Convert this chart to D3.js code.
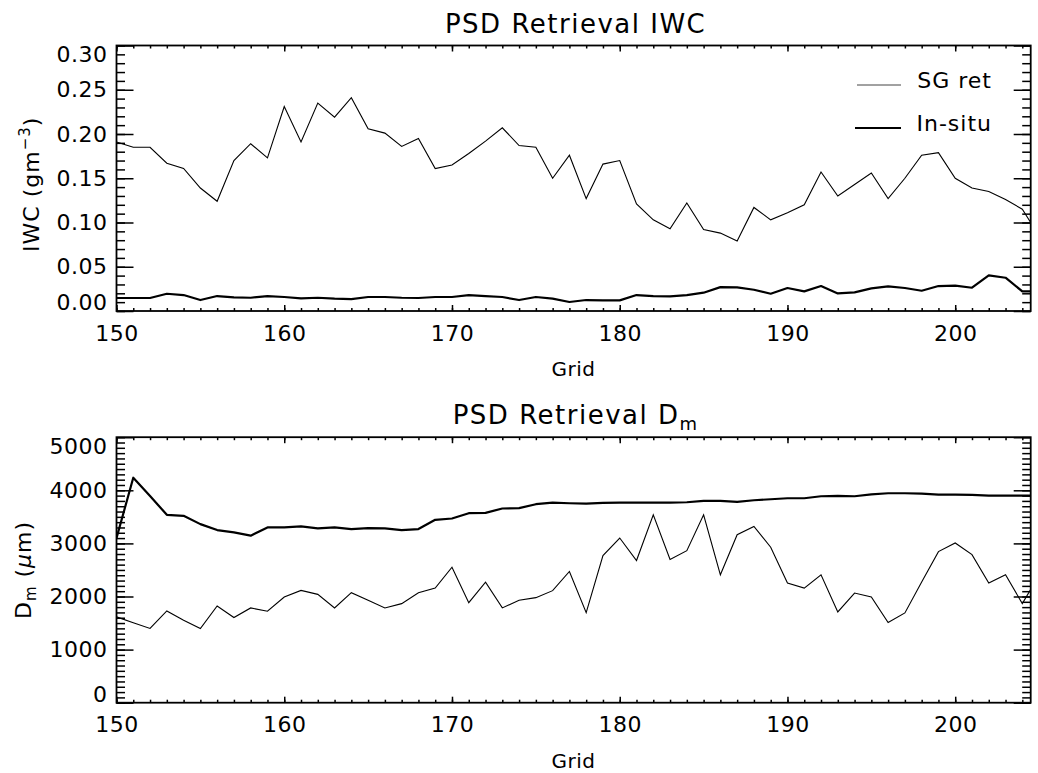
<!DOCTYPE html>
<html>
<head>
<meta charset="utf-8">
<script src="https://cdn.jsdelivr.net/npm/d3@7"></script>
<style>
  body { margin: 0; background: #fff; }
  svg text { font-family: "DejaVu Sans", sans-serif; fill: #000; }
</style>
</head>
<body>
<div id="chart"></div>
<script>
// Grid index along the x axis
const grid = [150, 151, 152, 153, 154, 155, 156, 157, 158, 159, 160, 161, 162, 163, 164, 165, 166, 167, 168, 169,
  170, 171, 172, 173, 174, 175, 176, 177, 178, 179, 180, 181, 182, 183, 184, 185, 186, 187, 188, 189,
  190, 191, 192, 193, 194, 195, 196, 197, 198, 199, 200, 201, 202, 203, 204, 205];

// IWC (g m-3)
const iwcSG = [0.191, 0.185, 0.185, 0.167, 0.161, 0.139, 0.124, 0.170, 0.189, 0.173, 0.231, 0.191, 0.235, 0.219, 0.241, 0.206, 0.201, 0.186, 0.195, 0.161,
  0.165, 0.178, 0.192, 0.207, 0.187, 0.185, 0.150, 0.176, 0.127, 0.166, 0.170, 0.121, 0.103, 0.093, 0.122, 0.092, 0.088, 0.079, 0.117, 0.103,
  0.111, 0.120, 0.157, 0.130, 0.143, 0.156, 0.127, 0.150, 0.176, 0.179, 0.150, 0.139, 0.135, 0.126, 0.115, 0.085];
const iwcInsitu = [0.0147, 0.0147, 0.0147, 0.0195, 0.018, 0.0124, 0.0169, 0.0154, 0.015, 0.0169, 0.0158, 0.0143, 0.015, 0.0139, 0.0135, 0.0158, 0.0158, 0.015, 0.0147, 0.0158,
  0.0158, 0.018, 0.0169, 0.0158, 0.0124, 0.0158, 0.0139, 0.0102, 0.0124, 0.012, 0.012, 0.018, 0.0169, 0.0165, 0.018, 0.0207, 0.027, 0.0267, 0.024, 0.0195,
  0.026, 0.0222, 0.0282, 0.0199, 0.021, 0.0256, 0.0278, 0.026, 0.0229, 0.0282, 0.0286, 0.0263, 0.0402, 0.0376, 0.0222, 0.022];

// Dm (micron)
const dmSG = [1616, 1504, 1398, 1728, 1554, 1398, 1822, 1604, 1785, 1722, 1991, 2115, 2040, 1785, 2072, 1928, 1785, 1866, 2072, 2159,
  2552, 1884, 2271, 1785, 1928, 1978, 2110, 2471, 1697, 2771, 3101, 2677, 3538, 2696, 2864, 3538, 2409, 3164, 3320, 2927,
  2253, 2159, 2409, 1710, 2065, 1991, 1510, 1691, 2271, 2845, 3008, 2789, 2253, 2409, 1866, 2400];
const dmInsitu = [3100, 4237, 3894, 3538, 3519, 3363, 3251, 3207, 3145, 3301, 3301, 3320, 3282, 3301, 3270, 3288, 3282, 3251, 3270, 3444,
  3469, 3569, 3576, 3657, 3663, 3738, 3769, 3756, 3750, 3763, 3769, 3769, 3769, 3769, 3775, 3800, 3800, 3781, 3813, 3831,
  3850, 3850, 3888, 3894, 3888, 3925, 3944, 3944, 3938, 3919, 3919, 3913, 3900, 3900, 3900, 3900];

const xRange = [150, 204.5];
const iwcRange = [0, 0.30];
const dmRange = [0, 5000];

const W = 1038, H = 773;
const left = 116.5, right = 1030.7;

const svg = d3.select("#chart").append("svg").attr("width", W).attr("height", H);

const x = d3.scaleLinear().domain(xRange).range([left, right]);

function drawPanel(o) {
  const y = d3.scaleLinear().domain(o.yDomain).range([o.bottom, o.top]);
  const g = svg.append("g");
  const id = "clip-" + o.key;

  g.append("clipPath").attr("id", id)
    .append("rect")
    .attr("x", left).attr("y", o.top)
    .attr("width", right - left).attr("height", o.bottom - o.top);

  // minor ticks, all four sides
  const style = (sel) => {
    sel.select(".domain").remove();
    sel.selectAll("line").attr("stroke", "#000").attr("stroke-width", 1.5);
    sel.attr("font-size", null).attr("font-family", null);
  };

  g.append("g").attr("transform", `translate(${left},0)`)
    .call(d3.axisLeft(y).tickValues(y.ticks(o.minorCount)).tickSize(-8.5).tickFormat(""))
    .call(style);
  g.append("g").attr("transform", `translate(${right},0)`)
    .call(d3.axisRight(y).tickValues(y.ticks(o.minorCount)).tickSize(-8.5).tickFormat(""))
    .call(style);
  g.append("g").attr("transform", `translate(0,${o.bottom})`)
    .call(d3.axisBottom(x).tickValues(x.ticks(50)).tickSize(-3).tickFormat(""))
    .call(style);
  g.append("g").attr("transform", `translate(0,${o.top})`)
    .call(d3.axisTop(x).tickValues(x.ticks(50)).tickSize(-3).tickFormat(""))
    .call(style);

  // major ticks with labels
  const yMajor = y.ticks(o.majorCount);
  const yAxis = g.append("g").attr("transform", `translate(${left},0)`)
    .call(d3.axisLeft(y).tickValues(yMajor).tickSize(-17).tickPadding(9).tickFormat(o.format))
    .call(style);
  yAxis.selectAll("text").attr("font-size", 22).attr("letter-spacing", 0.5)
    .attr("dy", (d, i) => i === 0 ? "-0.05em" : (i === yMajor.length - 1 ? "0.72em" : "0.32em"));

  g.append("g").attr("transform", `translate(${right},0)`)
    .call(d3.axisRight(y).tickValues(yMajor).tickSize(-17).tickFormat(""))
    .call(style);
  const xAxis = g.append("g").attr("transform", `translate(0,${o.bottom})`)
    .call(d3.axisBottom(x).ticks(5).tickSize(-6).tickPadding(14).tickFormat(d3.format("d")))
    .call(style);
  xAxis.selectAll("text").attr("font-size", 22).attr("letter-spacing", 0.5);
  g.append("g").attr("transform", `translate(0,${o.top})`)
    .call(d3.axisTop(x).ticks(5).tickSize(-6).tickFormat(""))
    .call(style);

  // frame
  g.append("rect")
    .attr("x", left).attr("y", o.top)
    .attr("width", right - left).attr("height", o.bottom - o.top)
    .attr("fill", "none").attr("stroke", "#000").attr("stroke-width", 1.8);

  // lines
  const line = d3.line().x((d, i) => x(grid[i])).y((d) => y(d));
  g.append("path").datum(o.sg)
    .attr("clip-path", `url(#${id})`)
    .attr("d", line).attr("fill", "none").attr("stroke", "#000").attr("stroke-width", 1.1);
  g.append("path").datum(o.insitu)
    .attr("clip-path", `url(#${id})`)
    .attr("d", line).attr("fill", "none").attr("stroke", "#000").attr("stroke-width", 2.2)
    .attr("stroke-linejoin", "round");

  // x axis title
  g.append("text")
    .attr("x", (left + right) / 2).attr("y", o.bottom + 65)
    .attr("text-anchor", "middle").attr("font-size", 20).attr("letter-spacing", 0.5)
    .text("Grid");

  // panel title
  const t = g.append("text")
    .attr("x", (left + right) / 2 + 2).attr("y", o.top - 13)
    .attr("text-anchor", "middle").attr("font-size", 26).attr("letter-spacing", 1.5);
  o.title(t);

  // y axis title
  const yl = g.append("text")
    .attr("transform", `translate(${o.ylabelX},${(o.top + o.bottom) / 2 + o.ylabelShift}) rotate(-90)`)
    .attr("text-anchor", "middle").attr("font-size", 22).attr("letter-spacing", 1);
  o.ylabel(yl);

  return y;
}

drawPanel({
  key: "iwc", top: 45.5, bottom: 311,
  yDomain: iwcRange, majorCount: 6, minorCount: 30,
  format: d3.format(".2f"),
  sg: iwcSG, insitu: iwcInsitu,
  ylabelX: 39, ylabelShift: 6,
  title: (t) => t.text("PSD Retrieval IWC"),
  ylabel: (t) => {
    t.append("tspan").text("IWC (gm");
    t.append("tspan").attr("dy", -9).attr("font-size", 15).text("\u22123");
    t.append("tspan").attr("dy", 9).text(")");
  }
});

drawPanel({
  key: "dm", top: 437.2, bottom: 702.7,
  yDomain: dmRange, majorCount: 5, minorCount: 50,
  format: d3.format("d"),
  sg: dmSG, insitu: dmInsitu,
  ylabelX: 31, ylabelShift: 0,
  title: (t) => {
    t.append("tspan").text("PSD Retrieval D");
    t.append("tspan").attr("dy", 6).attr("font-size", 18).text("m");
  },
  ylabel: (t) => {
    t.append("tspan").text("D");
    t.append("tspan").attr("dy", 5).attr("font-size", 15).text("m");
    t.append("tspan").attr("dy", -5).text(" (");
    t.append("tspan").attr("font-style", "italic").text("\u03bc");
    t.append("tspan").text("m)");
  }
});

// legend (top panel)
const legend = [
  { label: "SG ret", y: 85, width: 1, color: "#444", x0: 857 },
  { label: "In-situ", y: 128, width: 2.2, color: "#000", x0: 855 }
];
const lg = svg.append("g");
legend.forEach((d) => {
  lg.append("line")
    .attr("x1", d.x0).attr("x2", 901).attr("y1", d.y).attr("y2", d.y)
    .attr("stroke", d.color).attr("stroke-width", d.width);
  lg.append("text")
    .attr("x", 992).attr("y", d.y + 3)
    .attr("text-anchor", "end").attr("font-size", 22).attr("letter-spacing", 1)
    .text(d.label);
});
</script>
</body>
</html>
